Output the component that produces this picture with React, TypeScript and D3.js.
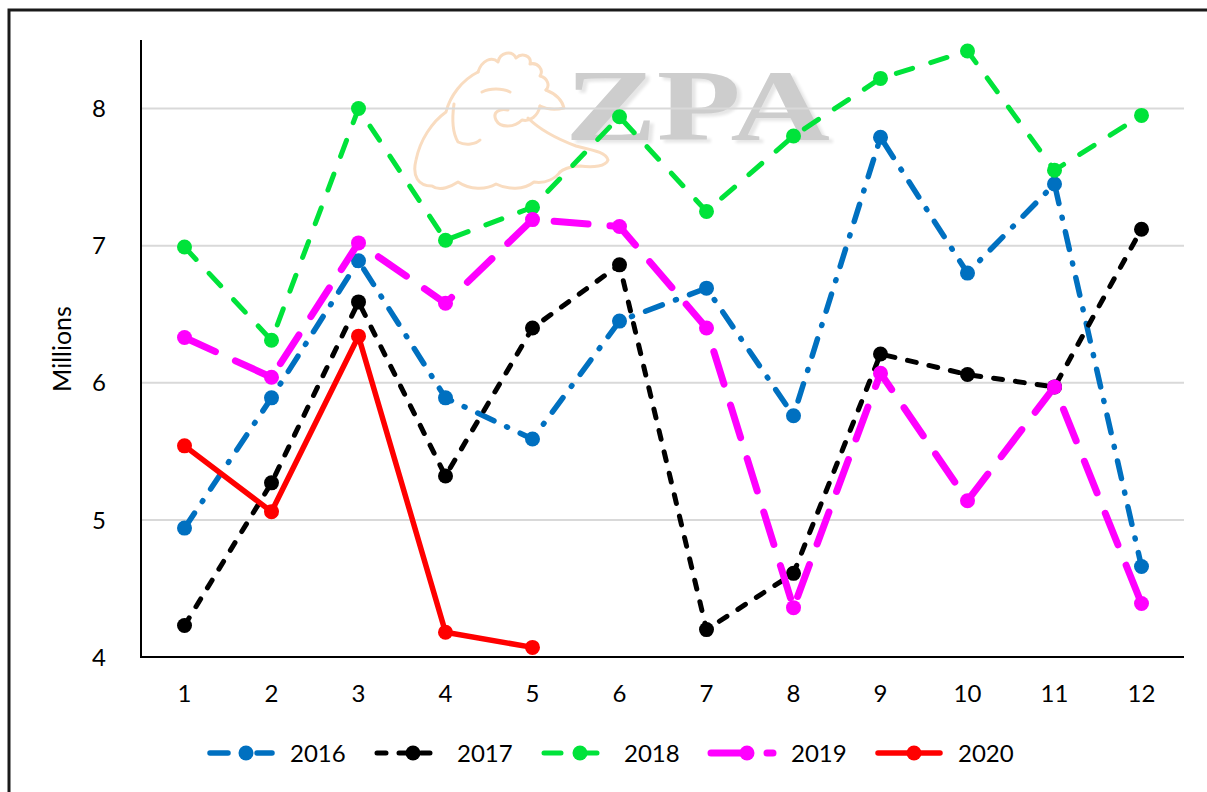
import React from "react";
import * as d3 from "d3";

const months = ["1", "2", "3", "4", "5", "6", "7", "8", "9", "10", "11", "12"];
const yTicks = [4, 5, 6, 7, 8];

const v2016 = [4.94, 5.89, 6.89, 5.89, 5.59, 6.45, 6.69, 5.76, 7.79, 6.8, 7.45, 4.66];
const v2017 = [4.23, 5.27, 6.59, 5.32, 6.4, 6.86, 4.2, 4.61, 6.21, 6.06, 5.97, 7.12];
const v2018 = [6.99, 6.31, 8.0, 7.04, 7.28, 7.94, 7.25, 7.8, 8.22, 8.42, 7.55, 7.95];
const v2019 = [6.33, 6.04, 7.02, 6.58, 7.19, 7.14, 6.4, 4.36, 6.07, 5.14, 5.97, 4.39];
const v2020 = [5.54, 5.06, 6.34, 4.18, 4.07];

const series = [
  { name: "2016", values: v2016, color: "#0070C0", width: 5.5, dash: "18,14,1,14" },
  { name: "2017", values: v2017, color: "#000000", width: 5, dash: "9,13" },
  { name: "2018", values: v2018, color: "#00E33A", width: 5, dash: "17,19" },
  { name: "2019", values: v2019, color: "#FF00FF", width: 7, dash: "34,22" },
  { name: "2020", values: v2020, color: "#FF0000", width: 5.5, dash: null },
];

const W = 1207;
const H = 792;
const FONT = "Lato, 'Open Sans', sans-serif";

export default function App() {
  const x = d3.scaleBand().domain(months).range([141, 1185]).padding(0);
  const y = d3.scaleLinear().domain([4, 8.5]).range([657, 40]);
  const cx = (i: number) => (x(months[i]) as number) + x.bandwidth() / 2;

  const line = d3
    .line<number>()
    .x((d, i) => cx(i))
    .y((d) => y(d));

  return (
    <svg
      width={W}
      height={H}
      style={{ position: "absolute", left: 0, top: 0, background: "#fff" }}
      fontFamily={FONT}
    >
      <defs>
        <filter id="wmShadow" x="-10%" y="-10%" width="130%" height="130%">
          <feDropShadow dx={4} dy={3} stdDeviation={1.5} floodColor="#E6E6E6" floodOpacity={1} />
        </filter>
      </defs>
      <rect x={0} y={0} width={W} height={H} fill="#fff" />
      <rect x={9} y={10} width={1215} height={800} fill="none" stroke="#1a1a1a" strokeWidth={3} />

      {/* watermark */}
      <g fill="none" stroke="#F9DCC0" strokeWidth={3} strokeLinecap="round" strokeLinejoin="round">
        <path d="M478,72 C482,60 492,56 498,62 C500,52 512,50 516,58 C522,52 532,56 530,64 C538,62 544,70 540,76 C548,78 550,86 546,90" />
        <path d="M478,72 C462,80 450,96 446,112 C432,122 420,140 416,160 C412,176 418,186 432,186 C440,192 452,186 458,182 C470,190 486,190 496,184 C508,190 524,190 534,182 C546,184 556,178 560,172" />
        <path d="M546,90 C556,94 562,100 564,108 C556,110 548,110 540,106" />
        <path d="M540,106 C538,116 530,122 522,120 C514,128 500,128 496,120 C492,112 500,108 508,110" />
        <path d="M482,92 C490,88 502,88 510,92" />
        <path d="M454,104 C452,118 452,132 458,142 C466,146 476,144 480,140" />
        <path d="M528,118 C540,130 560,140 576,146 C592,150 606,152 608,160 C606,166 594,168 580,166 C570,166 562,170 560,172" />
      </g>
      <text
        x={565}
        y={140}
        fontFamily="'Liberation Serif', 'DejaVu Serif', serif"
        fontWeight="bold"
        fontSize={102}
        fill="#CDCDCD"
        textLength={265}
        lengthAdjust="spacingAndGlyphs"
        filter="url(#wmShadow)"
      >
        ZPA
      </text>

      {/* gridlines */}
      {yTicks
        .filter((t) => t > 4)
        .map((t) => (
          <line key={t} x1={141} x2={1184} y1={y(t)} y2={y(t)} stroke="#D9D9D9" strokeWidth={2} />
        ))}

      {/* axes */}
      <line x1={141} x2={141} y1={40} y2={y(4)} stroke="#000" strokeWidth={2} />
      <line x1={140} x2={1184} y1={y(4)} y2={y(4)} stroke="#000" strokeWidth={2} />

      {yTicks.map((t) => (
        <text key={t} x={106} y={y(t)} dy="0.36em" textAnchor="end" fontSize={24} fill="#000">
          {t}
        </text>
      ))}
      {months.map((m, i) => (
        <text key={m} x={cx(i)} y={693} dy="0.36em" textAnchor="middle" fontSize={24} fill="#000">
          {m}
        </text>
      ))}
      <text
        transform={`translate(62,349) rotate(-90)`}
        textAnchor="middle"
        dy="0.36em"
        fontSize={25}
        fill="#000"
      >
        Millions
      </text>

      {/* series */}
      {series.map((s) => (
        <g key={s.name}>
          <path
            d={line(s.values) as string}
            fill="none"
            stroke={s.color}
            strokeWidth={s.width}
            strokeDasharray={s.dash ?? undefined}
            strokeLinecap="round"
            strokeLinejoin="round"
          />
          {s.values.map((v, i) => (
            <circle key={i} cx={cx(i)} cy={y(v)} r={7.5} fill={s.color} />
          ))}
        </g>
      ))}

      {/* legend */}
      {series.map((s, i) => {
        const lx = 210 + i * 167;
        const ly = 753;
        return (
          <g key={s.name}>
            <line
              x1={lx}
              x2={lx + 62}
              y1={ly}
              y2={ly}
              stroke={s.color}
              strokeWidth={s.width}
              strokeDasharray={s.dash ?? undefined}
              strokeLinecap="round"
            />
            <circle cx={lx + 36} cy={ly} r={7.5} fill={s.color} />
            <text x={lx + 80} y={ly} dy="0.36em" fontSize={24} fill="#000">
              {s.name}
            </text>
          </g>
        );
      })}
    </svg>
  );
}
